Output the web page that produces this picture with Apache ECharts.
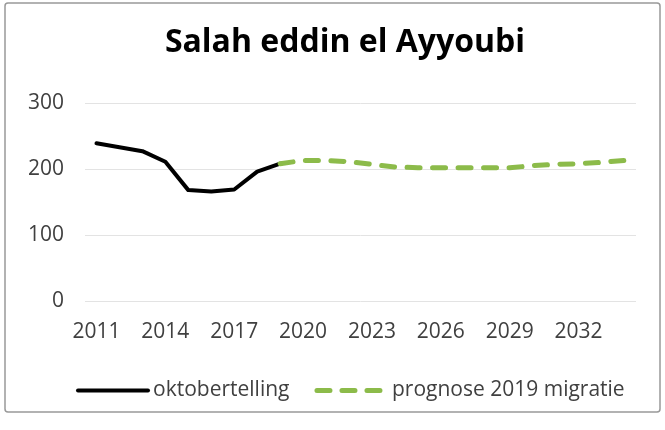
<!DOCTYPE html>
<html>
<head>
<meta charset="utf-8">
<script src="https://cdn.jsdelivr.net/npm/echarts@6/dist/echarts.min.js"></script>
<style>
  html, body { margin: 0; padding: 0; background: #fff; }
  #chart { width: 665px; height: 430px; }
</style>
</head>
<body>
<div id="chart"></div>
<script>
// jaren 2011 t/m 2034
const years = [];
for (let y = 2011; y <= 2034; y++) years.push(String(y));

// oktobertelling (2011-2019)
const telling = [239, 233, 227, 211, 168, 166, 169, 196, 208];
// prognose 2019 migratie (2019-2034)
const prognose = [208, 213, 213, 211, 207, 203, 202, 202, 202, 202, 202, 205, 207, 208, 210, 213];

const yTicks = [0, 100, 200, 300];

const tellingData = years.map((y, i) => (i < telling.length ? telling[i] : null));
const prognoseData = years.map((y, i) => {
  const k = i - (telling.length - 1);
  return k >= 0 ? prognose[k] : null;
});

const chart = echarts.init(document.getElementById('chart'), null, { renderer: 'canvas' });
const font = '"Open Sans", sans-serif';
const green = '#8cbb4a';

const option = {
  animation: false,
  backgroundColor: '#fff',
  title: {
    text: 'Salah eddin el Ayyoubi',
    left: 340,
    textAlign: 'center',
    top: 22,
    textStyle: { fontFamily: font, fontWeight: 'bold', fontSize: 32, color: '#000' }
  },
  graphic: [{
    type: 'rect',
    shape: { x: 5, y: 3, width: 655, height: 409, r: 3 },
    style: { fill: 'none', stroke: '#999', lineWidth: 1.5 },
    silent: true
  }],
  legend: {
    left: 71,
    top: 375,
    itemWidth: 70,
    itemHeight: 14,
    itemGap: 25,
    itemStyle: { opacity: 0 },
    textStyle: { fontFamily: font, fontSize: 21, color: '#404040' },
    data: [
      { name: 'oktobertelling', lineStyle: { width: 4, cap: 'round' } },
      { name: 'prognose 2019 migratie', lineStyle: { width: 5, type: [13, 12], cap: 'round' } }
    ]
  },
  grid: { left: 85, right: 29, top: 103, bottom: 129 },
  xAxis: {
    type: 'category',
    data: years,
    boundaryGap: true,
    axisLine: { show: false },
    axisTick: { show: false },
    axisLabel: {
      interval: 2,
      margin: 21,
      fontFamily: font,
      fontSize: 21,
      color: '#404040'
    }
  },
  yAxis: {
    type: 'value',
    min: yTicks[0],
    max: yTicks[yTicks.length - 1],
    interval: 100,
    axisLine: { show: false },
    axisTick: { show: false },
    splitLine: { lineStyle: { color: '#e3e3e3', width: 1 } },
    axisLabel: { margin: 21, fontFamily: font, fontSize: 21, color: '#404040' }
  },
  series: [
    {
      name: 'oktobertelling',
      type: 'line',
      data: tellingData,
      symbol: 'none',
      lineStyle: { color: '#000', width: 4, cap: 'round', join: 'round' },
      itemStyle: { color: '#000' }
    },
    {
      name: 'prognose 2019 migratie',
      type: 'line',
      data: prognoseData,
      symbol: 'none',
      lineStyle: {
        color: green,
        width: 5,
        type: [13, 12.5],
        cap: 'round',
        join: 'round'
      },
      itemStyle: { color: green }
    }
  ]
};

chart.setOption(option);
</script>
</body>
</html>
